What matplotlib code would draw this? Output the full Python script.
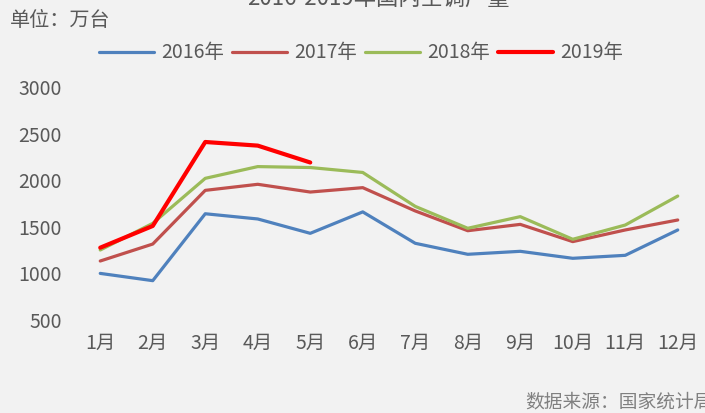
import matplotlib
matplotlib.use("Agg")
import matplotlib.pyplot as plt

plt.rcParams["font.family"] = ["Noto Sans CJK SC", "DejaVu Sans"]

months = ["1月", "2月", "3月", "4月", "5月", "6月", "7月", "8月", "9月", "10月", "11月", "12月"]
y2016 = [1000, 922, 1640, 1584, 1430, 1660, 1323, 1205, 1237, 1162, 1194, 1466]
y2017 = [1133, 1315, 1891, 1956, 1873, 1920, 1670, 1458, 1526, 1341, 1466, 1573]
y2018 = [1251, 1537, 2020, 2146, 2136, 2083, 1719, 1484, 1609, 1366, 1519, 1830]
y2019 = [1276, 1509, 2410, 2371, 2190]
yticks = [500, 1000, 1500, 2000, 2500, 3000]

BG = "#f2f2f2"
TXT = "#595959"
W, H = 705, 413

fig = plt.figure(figsize=(W / 100, H / 100), dpi=100, facecolor=BG)
# axes box in pixels: x 74..704, y 87..320
ax = fig.add_axes([74 / W, 1 - 320 / H, 630 / W, 233 / H], facecolor=BG)

x = list(range(1, 13))
ax.plot(x, y2016, color="#4f81bd", lw=2.3, label="2016年", solid_capstyle="round")
ax.plot(x, y2017, color="#c0504d", lw=2.3, label="2017年", solid_capstyle="round")
ax.plot(x, y2018, color="#9bbb59", lw=2.3, label="2018年", solid_capstyle="round")
ax.plot(x[:len(y2019)], y2019, color="#ff0000", lw=3.0, label="2019年", solid_capstyle="round")

ax.set_xlim(0.5, 12.5)
ax.set_ylim(500, 3000)
ax.set_xticks(x)
ax.set_xticklabels(months)
ax.set_yticks(yticks)
ax.tick_params(length=0, labelsize=14, colors=TXT)
ax.tick_params(axis="y", pad=9)
ax.tick_params(axis="x", pad=9)
for s in ax.spines.values():
    s.set_visible(False)

leg = fig.legend(loc="center", bbox_to_anchor=(361 / W, 1 - 53 / H), ncol=4, frameon=False,
                 fontsize=14, handlelength=2.85, columnspacing=0.4, handletextpad=0.36)
for t in leg.get_texts():
    t.set_color(TXT)

fig.text(378 / W, 1 - 6 / H, "2016-2019年国内空调产量", ha="center", va="baseline",
         fontsize=16, color=TXT)
fig.text(10 / W, 1 - 21 / H, "单位：万台", ha="left", va="center", fontsize=14.5, color=TXT)
fig.text(525 / W, 1 - 402 / H, "数据来源：国家统计局", ha="left", va="center", fontsize=13.5, color="#808080")

fig.savefig("out.png", dpi=100, facecolor=BG)
